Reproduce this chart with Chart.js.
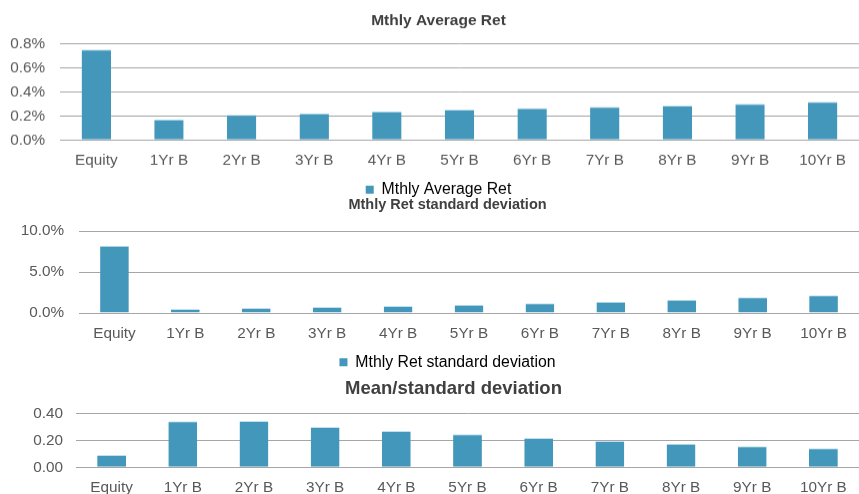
<!DOCTYPE html>
<html>
<head>
<meta charset="utf-8">
<script src="https://cdn.jsdelivr.net/npm/chart.js@4/dist/chart.umd.min.js"></script>
<style>
  html, body { margin: 0; padding: 0; background: #ffffff; overflow: hidden; }
  body { width: 859px; height: 494px; position: relative; }
  .panel { position: absolute; left: 0; }
  .panel canvas { display: block; }
</style>
</head>
<body>
<div class="panel" id="p1" style="top:0px;width:877px;height:206.7px;"><canvas id="c1"></canvas></div>
<div class="panel" id="p2" style="top:190px;width:895px;height:190.1px;"><canvas id="c2"></canvas></div>
<div class="panel" id="p3" style="top:370px;width:907px;height:124px;"><canvas id="c3"></canvas></div>
<script>
// Asset classes along the x axis
const categories = ['Equity', '1Yr B', '2Yr B', '3Yr B', '4Yr B', '5Yr B', '6Yr B', '7Yr B', '8Yr B', '9Yr B', '10Yr B'];

// Monthly average return, in percent
const avgRet = [0.75, 0.172, 0.208, 0.222, 0.238, 0.253, 0.264, 0.275, 0.286, 0.300, 0.317];

// Monthly return standard deviation, in percent
const stdDev = [8.2, 0.49, 0.61, 0.73, 0.85, 1.01, 1.18, 1.38, 1.62, 1.91, 2.16];

// Mean divided by standard deviation
const ratio = [0.091, 0.341, 0.343, 0.299, 0.269, 0.244, 0.217, 0.195, 0.175, 0.156, 0.141];

// Y-axis tick values
const avgTicks = [0, 0.2, 0.4, 0.6, 0.8];
const stdTicks = [0, 5, 10];
const ratioTicks = [0, 0.2, 0.4];

const FONT = "'Liberation Sans', Arial, sans-serif";
const TEXT = '#595959';
const TITLE = '#404040';
const GRID = '#a6a6a6';
const BAR = '#4397bb';
const BAR_EDGE = '#bfe0ee';
const TICK_SIZE = 15.3;

function makeChart(id, cfg) {
  const el = document.getElementById(id);
  return new Chart(el, {
    type: 'bar',
    data: {
      labels: categories,
      datasets: [{
        label: cfg.label,
        data: cfg.values,
        backgroundColor: BAR,
        borderColor: BAR_EDGE,
        borderWidth: { top: 1, left: 0, right: 0, bottom: 0 },
        categoryPercentage: 1,
        barPercentage: 0.405
      }]
    },
    options: {
      responsive: true,
      maintainAspectRatio: false,
      animation: false,
      layout: { padding: 0 },
      plugins: {
        tooltip: { enabled: false },
        title: {
          display: true,
          text: cfg.title,
          color: TITLE,
          font: { family: FONT, size: cfg.titleSize, weight: 'bold', lineHeight: 1.2 },
          padding: cfg.titlePadding
        },
        legend: {
          display: cfg.legend,
          position: 'bottom',
          labels: {
            color: TEXT,
            font: { family: FONT, size: 15.8 },
            boxWidth: 8,
            boxHeight: 8,
            padding: 10,
            generateLabels: () => [{
              text: cfg.label,
              fillStyle: BAR,
              strokeStyle: BAR,
              lineWidth: 0,
              datasetIndex: 0
            }]
          }
        }
      },
      scales: {
        x: {
          grid: { display: false, drawTicks: false },
          border: { display: true, color: GRID, width: 1 },
          ticks: { color: TEXT, font: { family: FONT, size: TICK_SIZE }, padding: cfg.xPad, maxRotation: 0, autoSkip: false },
          afterFit: (s) => { s.height = cfg.xHeight; }
        },
        y: {
          min: cfg.ticks[0],
          max: cfg.ticks[cfg.ticks.length - 1],
          grid: { color: GRID, lineWidth: 1, drawTicks: false },
          border: { display: false },
          afterBuildTicks: (s) => { s.ticks = cfg.ticks.map(v => ({ value: v })); },
          ticks: {
            color: TEXT,
            font: { family: FONT, size: TICK_SIZE },
            padding: cfg.yPad,
            callback: cfg.fmt
          },
          afterFit: (s) => { s.width = cfg.plotLeft; }
        },
        // empty gutter on the right, past the visible page edge,
        // so the centred title and legend sit a little right of centre
        gutter: {
          type: 'linear',
          position: 'right',
          display: true,
          grid: { display: false, drawTicks: false },
          border: { display: false },
          ticks: { display: false },
          afterFit: (s) => { s.width = cfg.gutter; }
        }
      }
    }
  });
}

makeChart('c1', {
  label: 'Mthly Average Ret',
  title: 'Mthly Average Ret',
  values: avgRet,
  ticks: avgTicks,
  fmt: (v) => v.toFixed(1) + '%',
  titleSize: 15.5,
  titlePadding: { top: 11.7, bottom: 13 },
  legend: true,
  gutter: 18,
  xHeight: 31.6,
  xPad: 11,
  plotLeft: 60,
  yPad: 15
});

makeChart('c2', {
  label: 'Mthly Ret standard deviation',
  title: 'Mthly Ret standard deviation',
  values: stdDev,
  ticks: stdTicks,
  fmt: (v) => v.toFixed(1) + '%',
  titleSize: 14.5,
  titlePadding: { top: 6.6, bottom: 17 },
  legend: true,
  gutter: 36,
  xHeight: 31.3,
  xPad: 12,
  plotLeft: 79,
  yPad: 15
});

makeChart('c3', {
  label: 'Mean/standard deviation',
  title: 'Mean/standard deviation',
  values: ratio,
  ticks: ratioTicks,
  fmt: (v) => v.toFixed(2),
  titleSize: 18.5,
  titlePadding: { top: 7.9, bottom: 13.2 },
  legend: false,
  gutter: 48,
  xHeight: 26.7,
  xPad: 11,
  plotLeft: 76,
  yPad: 13
});
</script>
</body>
</html>
